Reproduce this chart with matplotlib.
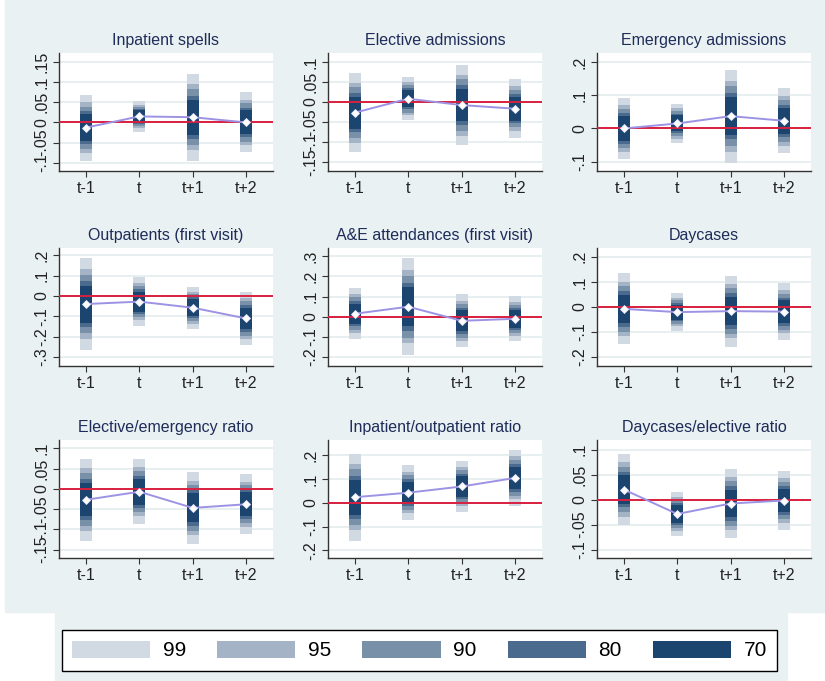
import matplotlib.pyplot as plt
from matplotlib.patches import Patch, Rectangle

plt.rcParams['font.family'] = ['Liberation Sans', 'DejaVu Sans']

periods = ['t-1', 't', 't+1', 't+2']

titles = ['Inpatient spells', 'Elective admissions', 'Emergency admissions',
          'Outpatients (first visit)', 'A&E attendances (first visit)', 'Daycases',
          'Elective/emergency ratio', 'Inpatient/outpatient ratio', 'Daycases/elective ratio']

# point estimates
inpatient = [-0.013, 0.015, 0.013, 0.000]
elective = [-0.027, 0.008, -0.008, -0.017]
emergency = [0.000, 0.015, 0.037, 0.023]
outpatient = [-0.040, -0.028, -0.058, -0.111]
ae = [0.015, 0.050, -0.020, -0.010]
daycases = [-0.008, -0.021, -0.017, -0.019]
el_em_ratio = [-0.027, -0.007, -0.047, -0.038]
in_out_ratio = [0.023, 0.042, 0.068, 0.104]
day_el_ratio = [0.020, -0.029, -0.008, -0.002]

# standard errors
inpatient_se = [0.032, 0.015, 0.042, 0.029]
elective_se = [0.0385, 0.021, 0.039, 0.0286]
emergency_se = [0.0354, 0.0233, 0.0544, 0.038]
outpatient_se = [0.088, 0.047, 0.040, 0.051]
ae_se = [0.049, 0.093, 0.051, 0.043]
daycases_se = [0.055, 0.029, 0.055, 0.044]
el_em_ratio_se = [0.0396, 0.031, 0.0345, 0.0287]
in_out_ratio_se = [0.071, 0.0445, 0.0415, 0.046]
day_el_ratio_se = [0.0276, 0.017, 0.027, 0.023]

estimates = [inpatient, elective, emergency, outpatient, ae, daycases,
             el_em_ratio, in_out_ratio, day_el_ratio]
errors = [inpatient_se, elective_se, emergency_se, outpatient_se, ae_se, daycases_se,
          el_em_ratio_se, in_out_ratio_se, day_el_ratio_se]

# confidence levels and their z values
levels = ['99', '95', '90', '80', '70']
z_values = [2.576, 1.960, 1.645, 1.282, 1.036]
band_colors = ['#d1dae3', '#a4b4c6', '#7990a9', '#4a6b8e', '#1b446e']

yticks = [[-0.1, -0.05, 0, 0.05, 0.1, 0.15],
          [-0.15, -0.1, -0.05, 0, 0.05, 0.1],
          [-0.1, 0, 0.1, 0.2],
          [-0.3, -0.2, -0.1, 0, 0.1, 0.2],
          [-0.2, -0.1, 0, 0.1, 0.2, 0.3],
          [-0.2, -0.1, 0, 0.1, 0.2],
          [-0.15, -0.1, -0.05, 0, 0.05, 0.1],
          [-0.2, -0.1, 0, 0.1, 0.2],
          [-0.1, -0.05, 0, 0.05, 0.1]]
ylims = [(-0.121, 0.173), (-0.173, 0.1225), (-0.128, 0.227),
         (-0.345, 0.236), (-0.244, 0.341), (-0.236, 0.235),
         (-0.171, 0.121), (-0.232, 0.263), (-0.117, 0.119)]


def stata_label(v):
    if abs(v) < 1e-9:
        return '0'
    s = ('%g' % v).replace('0.', '.')
    return s


W, H = 825, 681
fig = plt.figure(figsize=(W / 100, H / 100), dpi=100, facecolor='white')
bg = '#eaf1f2'
fig.patches.append(Rectangle((5 / W, 69 / H), 1 - 5 / W, 1 - 69 / H,
                             transform=fig.transFigure, color=bg, zorder=-10))
fig.patches.append(Rectangle((55 / W, 0), 732 / W, 69 / H,
                             transform=fig.transFigure, color=bg, zorder=-10))

col_left = [59, 328, 597]
row_top = [53, 248, 440]
aw, ah = 214, 118

x = [1, 2, 3, 4]
for i in range(9):
    r, c = divmod(i, 3)
    ax = fig.add_axes([col_left[c] / W, (H - row_top[r] - ah) / H, aw / W, ah / H])
    ax.set_facecolor('white')
    est = estimates[i]
    se = errors[i]
    for z, col in zip(z_values, band_colors):
        lo = [e - z * s for e, s in zip(est, se)]
        hi = [e + z * s for e, s in zip(est, se)]
        ax.bar(x, [h - l for h, l in zip(hi, lo)], bottom=lo, width=0.22,
               color=col, linewidth=0, zorder=2)
    ax.axhline(0, color='#d8203f', lw=1.4, zorder=3)
    ax.plot(x, est, color='#9d93e4', lw=1.4, zorder=4)
    ax.plot(x, est, linestyle='none', marker='D', markersize=4.5,
            markerfacecolor='white', markeredgecolor='#e8e6f8', markeredgewidth=0.6, zorder=5)
    ax.set_xlim(0.5, 4.5)
    ax.set_ylim(*ylims[i])
    ax.set_xticks(x)
    ax.set_xticklabels(periods, fontsize=11.5)
    ax.set_yticks(yticks[i])
    ax.set_yticklabels([stata_label(v) for v in yticks[i]], rotation=90,
                       va='center', fontsize=11.5)
    ax.yaxis.grid(True, color='#e6eef0', lw=1.3, zorder=0)
    ax.set_axisbelow(True)
    for side in ['top', 'right']:
        ax.spines[side].set_visible(False)
    for side in ['left', 'bottom']:
        ax.spines[side].set_color('#333333')
        ax.spines[side].set_linewidth(1.0)
    ax.tick_params(direction='out', length=4, color='#333333', labelcolor='#222222', pad=3)
    ax.set_title(titles[i], fontsize=11.5, color='#1e2c5a', pad=6)

handles = [Patch(facecolor=col, edgecolor='none') for col in band_colors]
leg = fig.legend(handles, levels, ncol=5, loc='center',
                 bbox_to_anchor=(419.5 / W, (H - 650.5) / H),
                 fontsize=15, handlelength=3.75, handleheight=0.87,
                 handletextpad=0.6, columnspacing=1.5, frameon=True,
                 fancybox=False, framealpha=1, borderpad=0.5)
leg.get_frame().set_edgecolor('black')
leg.get_frame().set_linewidth(1.0)

fig.savefig('out.png', dpi=100, facecolor=fig.get_facecolor())
